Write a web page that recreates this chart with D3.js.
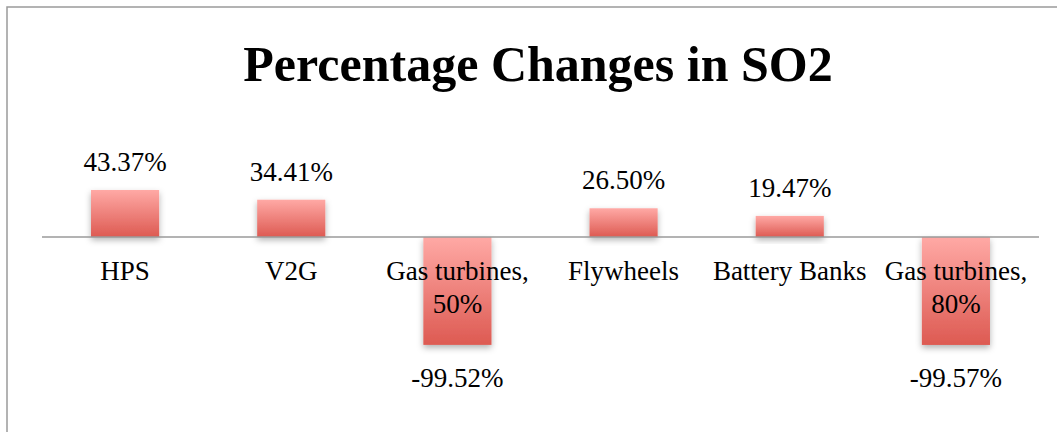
<!DOCTYPE html>
<html>
<head>
<meta charset="utf-8">
<script src="https://cdn.jsdelivr.net/npm/d3@7"></script>
<style>
    body { margin: 0; background: #fff; }
    svg { display: block; }
</style>
</head>
<body>
<svg id="chart" width="1057" height="432"></svg>
<script>
// data
const categories = ["HPS", "V2G", "Gas turbines, 50%", "Flywheels", "Battery Banks", "Gas turbines, 80%"];
const catLines = [["HPS"], ["V2G"], ["Gas turbines,", "50%"], ["Flywheels"], ["Battery Banks"], ["Gas turbines,", "80%"]];
const values = [43.37, 34.41, -99.52, 26.50, 19.47, -99.57];
const valueLabels = ["43.37%", "34.41%", "-99.52%", "26.50%", "19.47%", "-99.57%"];

const svg = d3.select("#chart");
const font = "'Liberation Serif', 'DejaVu Serif', serif";

const defs = svg.append("defs");
const grad = defs.append("linearGradient")
    .attr("id", "barGrad")
    .attr("x1", 0).attr("y1", 0).attr("x2", 0).attr("y2", 1);
grad.append("stop").attr("offset", "0%").attr("stop-color", "#ffa9a5");
grad.append("stop").attr("offset", "100%").attr("stop-color", "#dd5a52");

const shadow = defs.append("filter")
    .attr("id", "shadow")
    .attr("x", "-20%").attr("y", "-20%").attr("width", "140%").attr("height", "150%");
shadow.append("feDropShadow")
    .attr("dx", 0).attr("dy", 3)
    .attr("stdDeviation", 3)
    .attr("flood-color", "#000")
    .attr("flood-opacity", 0.3);

// frame (only left and top visible in the picture)
svg.append("path")
    .attr("d", "M7,432 V7 H1057")
    .attr("fill", "none")
    .attr("stroke", "#9b9b9b")
    .attr("stroke-width", 1.5);

// title
svg.append("text")
    .attr("x", 538)
    .attr("y", 81)
    .attr("text-anchor", "middle")
    .attr("font-family", font)
    .attr("font-weight", "bold")
    .attr("font-size", "50px")
    .attr("fill", "#000")
    .text("Percentage Changes in SO2");

const x = d3.scaleBand()
    .domain(categories)
    .range([42, 1039])
    .paddingInner(0.59)
    .paddingOuter(0.295);

const y = d3.scaleLinear()
    .domain([-100, 50])
    .range([345.4, 182.8]);

// bars
svg.append("g")
    .selectAll("rect")
    .data(values)
    .enter().append("rect")
    .attr("x", (d, i) => x(categories[i]))
    .attr("width", x.bandwidth())
    .attr("y", d => y(Math.max(0, d)))
    .attr("height", d => Math.abs(y(d) - y(0)))
    .attr("fill", "url(#barGrad)")
    .attr("filter", "url(#shadow)");

// zero axis line
svg.append("line")
    .attr("x1", 42).attr("x2", 1039)
    .attr("y1", y(0)).attr("y2", y(0))
    .attr("stroke", "#9a9a9a")
    .attr("stroke-width", 1.5);

// category labels
const cat = svg.append("g")
    .selectAll("text")
    .data(catLines)
    .enter().append("text")
    .attr("x", (d, i) => x(categories[i]) + x.bandwidth() / 2)
    .attr("y", 280)
    .attr("text-anchor", "middle")
    .attr("font-family", font)
    .attr("font-size", "27px")
    .attr("fill", "#000");

cat.selectAll("tspan")
    .data(d => d)
    .enter().append("tspan")
    .attr("x", function() { return d3.select(this.parentNode).attr("x"); })
    .attr("dy", (d, i) => i === 0 ? 0 : 33)
    .text(d => d);

// value labels
svg.append("g")
    .selectAll("text")
    .data(values)
    .enter().append("text")
    .attr("x", (d, i) => x(categories[i]) + x.bandwidth() / 2)
    .attr("y", d => d >= 0 ? y(d) - 19 : y(d) + 42)
    .attr("text-anchor", "middle")
    .attr("font-family", font)
    .attr("font-size", "27px")
    .attr("fill", "#000")
    .text((d, i) => valueLabels[i]);
</script>
</body>
</html>
